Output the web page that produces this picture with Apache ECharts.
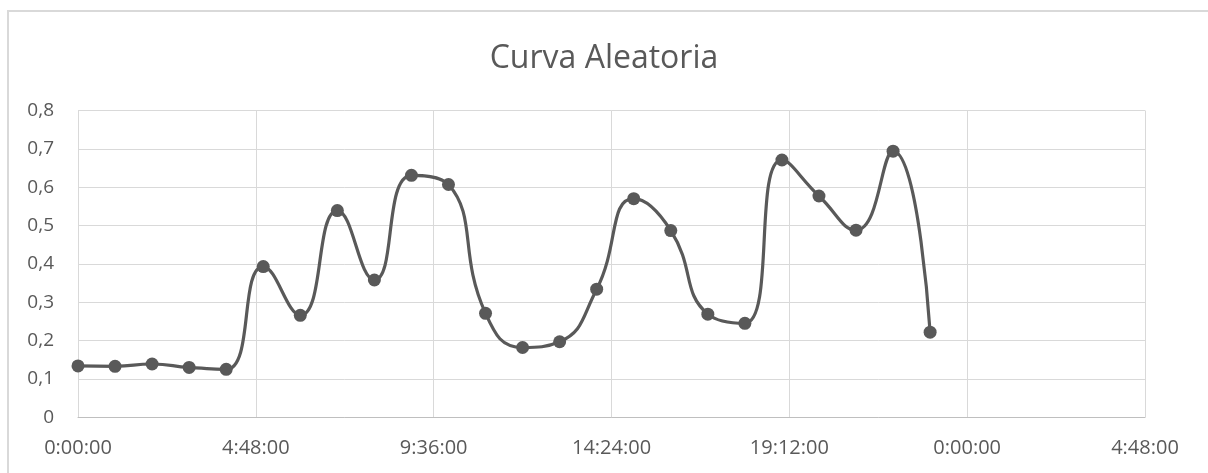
<!DOCTYPE html>
<html>
<head>
<meta charset="utf-8">
<title>Curva Aleatoria</title>
<script src="https://cdn.jsdelivr.net/npm/echarts@6/dist/echarts.min.js"></script>
<style>
  html, body { margin: 0; padding: 0; background: #ffffff; }
  #chart { width: 1208px; height: 473px; }
</style>
</head>
<body>
<div id="chart"></div>
<script>
// Sample times, in minutes after midnight (one reading per hour)
const sampleMinutes = [0, 60, 120, 180, 240, 300, 360, 420, 480, 540, 600, 660,
  720, 780, 840, 900, 960, 1020, 1080, 1140, 1200, 1260, 1320, 1380];
// Measured values
const sampleValues = [0.134, 0.133, 0.139, 0.130, 0.125, 0.393, 0.266, 0.539,
  0.358, 0.631, 0.607, 0.271, 0.182, 0.197, 0.334, 0.570, 0.487, 0.269,
  0.245, 0.671, 0.577, 0.488, 0.694, 0.222];
const titleText = 'Curva Aleatoria';

const TEXT = '#595959';
const GRID = '#d9d9d9';

function clockLabel(v) {
  const m = Math.round(v);
  const h = Math.floor(m / 60) % 24;
  const mm = m % 60;
  return h + ':' + String(mm).padStart(2, '0') + ':00';
}

const chart = echarts.init(document.getElementById('chart'), null, { renderer: 'canvas' });
chart.setOption({
  animation: false,
  backgroundColor: '#ffffff',
  textStyle: { fontFamily: 'Open Sans, sans-serif' },
  graphic: [{
    type: 'rect',
    shape: { x: 8, y: 11, width: 1400, height: 700 },
    style: { fill: 'none', stroke: GRID, lineWidth: 2 },
    silent: true, z: -1
  }],
  title: {
    text: titleText,
    left: 'center',
    top: 38,
    textStyle: { color: TEXT, fontSize: 32, fontWeight: 'normal', fontFamily: 'Open Sans, sans-serif' }
  },
  grid: { left: 78, right: 63, top: 110.5, bottom: 55.7, containLabel: false },
  xAxis: {
    type: 'value',
    min: 0, max: 1728, interval: 288,
    axisLine: { show: true, onZero: false, lineStyle: { color: '#bfbfbf', width: 1 } },
    axisTick: { show: false },
    splitLine: { show: true, lineStyle: { color: GRID, width: 1 } },
    axisLabel: {
      color: TEXT, fontSize: 20, margin: 21,
      formatter: clockLabel, showMinLabel: true, showMaxLabel: true
    }
  },
  yAxis: {
    type: 'value',
    min: 0, max: 0.8, interval: 0.1,
    axisLine: { show: false },
    axisTick: { show: false },
    splitLine: { show: true, lineStyle: { color: GRID, width: 1 } },
    axisLabel: {
      color: TEXT, fontSize: 19, margin: 24,
      formatter: v => (Math.round(v * 10) / 10).toString().replace('.', ',')
    }
  },
  series: [{
    type: 'line',
    data: sampleMinutes.map((m, i) => [m, sampleValues[i]]),
    smooth: 0.5,
    symbol: 'circle',
    symbolSize: 13,
    itemStyle: { color: TEXT },
    lineStyle: { color: TEXT, width: 3.2 }
  }]
});
</script>
</body>
</html>
